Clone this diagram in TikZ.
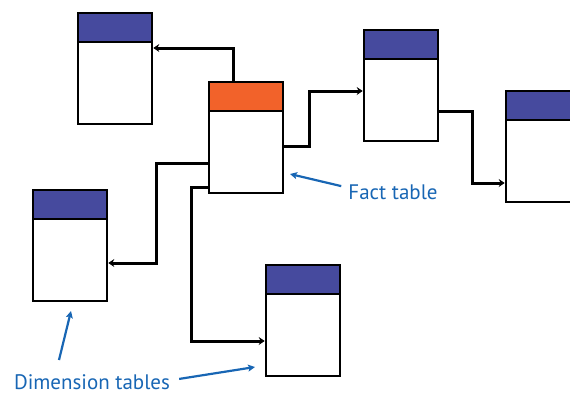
\documentclass[tikz,border=0pt]{standalone}
\usepackage{fontspec}
\setmainfont{PT Sans}
\usetikzlibrary{arrows.meta}
\definecolor{hdblue}{HTML}{464A9E}
\definecolor{hdorange}{HTML}{F2622A}
\definecolor{lblblue}{HTML}{1866B4}
\tikzset{
  tbody/.style={draw=black,fill=white,line width=2.6pt,minimum width=74pt,minimum height=82pt,inner sep=0pt,outer sep=0pt,anchor=north west},
  thead/.style={draw=black,fill=hdblue,line width=2.6pt,minimum width=74pt,minimum height=29pt,inner sep=0pt,outer sep=0pt,anchor=south west},
  conn/.style={draw=black,line width=3pt,-{Stealth[length=6pt,width=8pt,inset=2pt]}},
  lbl/.style={text=lblblue,font=\fontsize{21}{25}\selectfont,inner sep=0pt,anchor=base},
  lblarrow/.style={draw=lblblue,line width=2.2pt,-{Stealth[length=7pt,width=7pt,inset=1.5pt]}}
}
\begin{document}
\begin{tikzpicture}[x=1pt,y=-1pt]
\useasboundingbox (0,0) rectangle (570,394);
% tables
\node[tbody] (t1b) at (78,42) {};
\node[thead] (t1h) at (t1b.north west) {};
\node[tbody] (fb) at (209,111) {};
\node[thead,fill=hdorange] (fh) at (fb.north west) {};
\node[tbody] (t2b) at (364,59) {};
\node[thead] (t2h) at (t2b.north west) {};
\node[tbody] (t3b) at (506,120) {};
\node[thead] (t3h) at (t3b.north west) {};
\node[tbody] (t4b) at (33,219) {};
\node[thead] (t4h) at (t4b.north west) {};
\node[tbody] (t5b) at (266,294) {};
\node[thead] (t5h) at (t5b.north west) {};
% connectors
\path[conn] ([xshift=24pt]fh.north west) |- ([xshift=1.3pt,yshift=-6pt]t1b.north east);
\path[conn] ([yshift=-35pt]fb.north east) -- ++(26pt,0) |- ([xshift=-1.3pt,yshift=-32pt]t2b.north west);
\path[conn] ([yshift=-52pt]t2b.north east) -- ++(34pt,0) |- ([xshift=-1.3pt,yshift=-63pt]t3b.north west);
\path[conn] ([yshift=-52pt]fb.north west) -- ++(-53pt,0) |- ([xshift=1.3pt,yshift=-44pt]t4b.north east);
\path[conn] ([yshift=-76pt]fb.north west) -- ++(-18pt,0) |- ([xshift=-1.3pt,yshift=-47pt]t5b.north west);
% labels
\node[lbl] (fact) at (393,199) {Fact table};
\node[lbl] (dim) at (92,389) {Dimension tables};
\coordinate (fa) at (290,174);
\coordinate (da1) at (71,311);
\coordinate (da2) at (255,367);
\draw[lblarrow] ([xshift=-7pt,yshift=-2pt]fact.north west) -- (fa);
\draw[lblarrow] (59,360) -- (da1);
\draw[lblarrow] ([xshift=9pt,yshift=-5pt]dim.north east) -- (da2);
\end{tikzpicture}
\end{document}
